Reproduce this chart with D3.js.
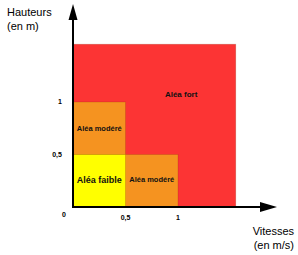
<!DOCTYPE html>
<html>
<head>
<meta charset="utf-8">
<script src="https://cdn.jsdelivr.net/npm/d3@7"></script>
<style>
  body { margin: 0; background: #fff; }
  text { font-family: "Liberation Sans", Arial, sans-serif; }
</style>
</head>
<body>
<svg id="chart"></svg>
<script>
// zones, drawn back to front
var zoneNames = ["Aléa fort", "Aléa modéré", "Aléa modéré", "Aléa faible"];
var zoneXMax = [1.55, 0.5, 1, 0.5];
var zoneYMax = [1.55, 1, 0.5, 0.5];
var zoneColors = ["#fc3434", "#f59320", "#f59320", "#ffff00"];
var labelX = [1.03, 0.25, 0.75, 0.25];
var labelY = [1.07, 0.75, 0.26, 0.26];
var labelSize = [8, 7.5, 7.5, 9];

var xTicks = [0.5, 1];
var yTicks = [0, 0.5, 1];

var width = 298, height = 255;
var x0 = 73, y0 = 207, unit = 105;

var svg = d3.select("#chart")
    .attr("width", width)
    .attr("height", height);

var xScale = d3.scaleLinear().domain([0, 1]).range([x0, x0 + unit]);
var yScale = d3.scaleLinear().domain([0, 1]).range([y0, y0 - unit]);

var zones = zoneNames.map(function(d, i) {
    return {name: d, xm: zoneXMax[i], ym: zoneYMax[i], color: zoneColors[i],
            lx: labelX[i], ly: labelY[i], size: labelSize[i]};
});

svg.selectAll(".zone")
    .data(zones)
    .enter().append("rect")
    .attr("class", "zone")
    .attr("x", xScale(0))
    .attr("y", function(d) { return yScale(d.ym); })
    .attr("width", function(d) { return xScale(d.xm) - xScale(0); })
    .attr("height", function(d) { return yScale(0) - yScale(d.ym); })
    .style("fill", function(d) { return d.color; })
    .style("stroke", "rgba(120,40,0,0.25)")
    .style("stroke-width", 0.8);

svg.selectAll(".zlabel")
    .data(zones)
    .enter().append("text")
    .attr("class", "zlabel")
    .attr("x", function(d) { return xScale(d.lx); })
    .attr("y", function(d) { return yScale(d.ly); })
    .attr("dy", ".35em")
    .style("text-anchor", "middle")
    .style("font-size", function(d) { return d.size + "px"; })
    .style("font-weight", "bold")
    .style("fill", "#111")
    .text(function(d) { return d.name; });

// axes with arrow heads
svg.append("line")
    .attr("x1", x0).attr("y1", y0 + 1)
    .attr("x2", x0).attr("y2", 16)
    .style("stroke", "#000").style("stroke-width", 2);
svg.append("path")
    .attr("d", "M" + x0 + ",4 L" + (x0 + 4.5) + ",20 L" + (x0 - 4.5) + ",20 Z")
    .style("fill", "#000");

svg.append("line")
    .attr("x1", x0 - 1).attr("y1", y0)
    .attr("x2", 265).attr("y2", y0)
    .style("stroke", "#000").style("stroke-width", 2);
svg.append("path")
    .attr("d", "M277," + y0 + " L260," + (y0 - 5) + " L260," + (y0 + 5) + " Z")
    .style("fill", "#000");

svg.selectAll(".ytick")
    .data(yTicks)
    .enter().append("text")
    .attr("class", "ytick")
    .attr("x", function(d) { return d === 0 ? 64 : (d === 1 ? 60 : 57); })
    .attr("y", function(d) { return d === 0 ? yScale(d) + 8 : yScale(d); })
    .attr("dy", ".35em")
    .style("text-anchor", "middle")
    .style("font-size", "7px")
    .style("font-weight", "bold")
    .text(function(d) { return String(d).replace(".", ","); });

svg.selectAll(".xtick")
    .data(xTicks)
    .enter().append("text")
    .attr("class", "xtick")
    .attr("x", function(d) { return xScale(d); })
    .attr("y", y0 + 13)
    .style("text-anchor", "middle")
    .style("font-size", "7px")
    .style("font-weight", "bold")
    .text(function(d) { return String(d).replace(".", ","); });

svg.append("text").attr("x", 7).attr("y", 16)
    .style("font-size", "11px").text("Hauteurs");
svg.append("text").attr("x", 7).attr("y", 30)
    .style("font-size", "11px").text("(en m)");
svg.append("text").attr("x", 294).attr("y", 235)
    .style("font-size", "11px").style("text-anchor", "end").text("Vitesses");
svg.append("text").attr("x", 294).attr("y", 249)
    .style("font-size", "11px").style("text-anchor", "end").text("(en m/s)");
</script>
</body>
</html>
